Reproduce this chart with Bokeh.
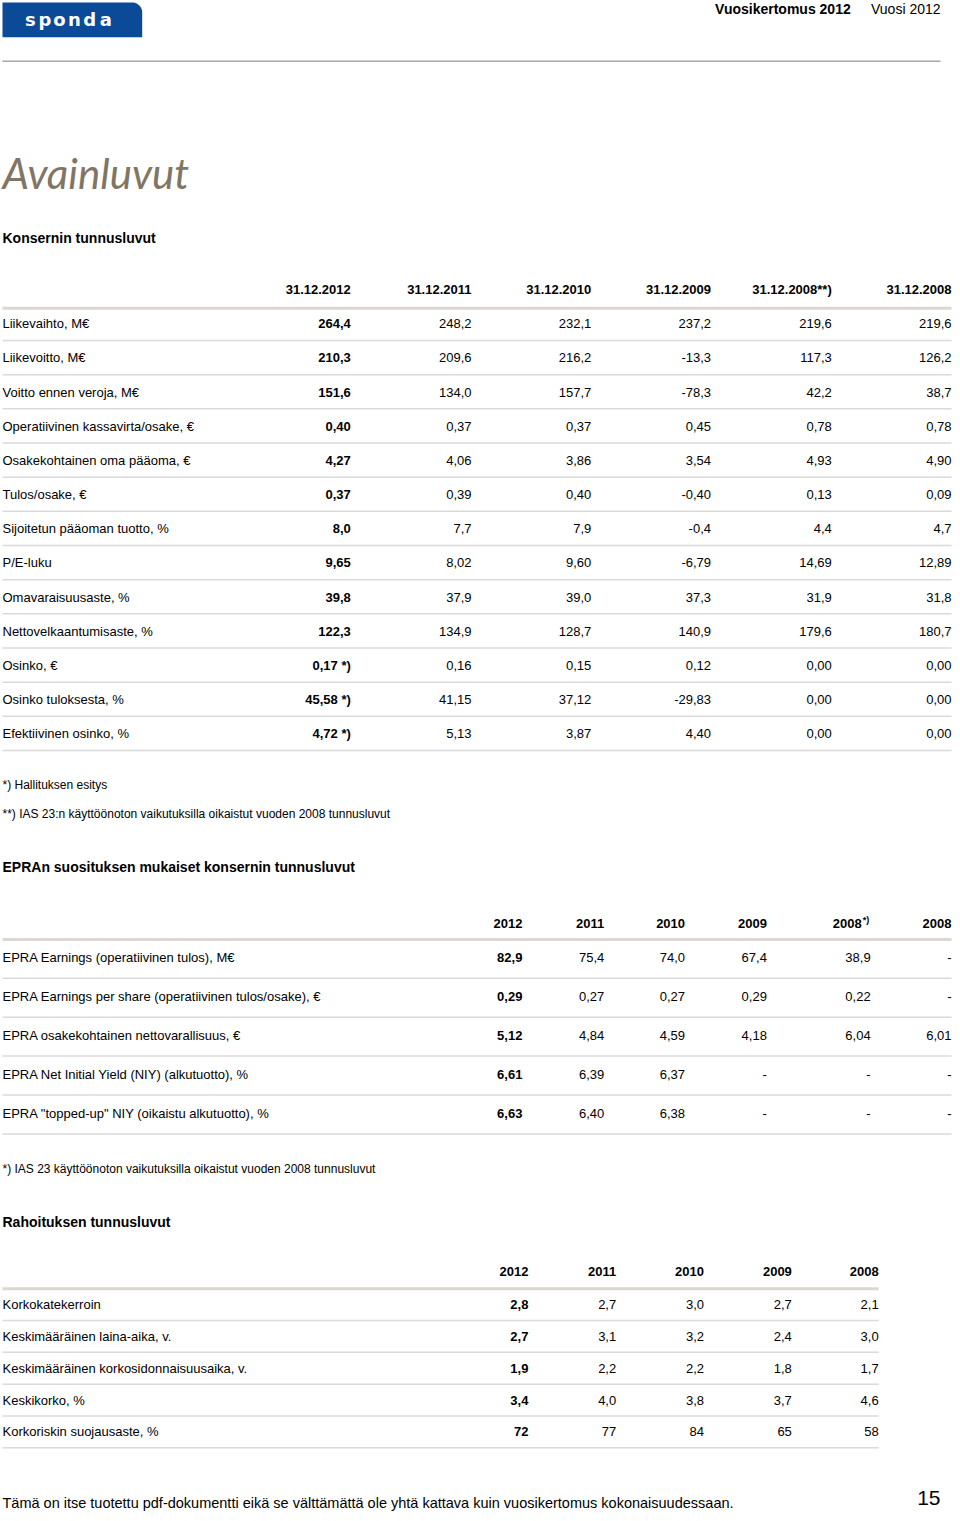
import math
from bokeh.plotting import figure
from bokeh.models import Range1d
from bokeh.core.properties import value
from bokeh.embed import file_html
from bokeh.resources import INLINE

# ---------------- data ----------------
header_bold = "Vuosikertomus 2012"
header_plain = "Vuosi 2012"
page_title = "Avainluvut"
footer_text = "Tämä on itse tuotettu pdf-dokumentti eikä se välttämättä ole yhtä kattava kuin vuosikertomus kokonaisuudessaan."
page_number = "15"

t1_title = "Konsernin tunnusluvut"
t1_cols = ["31.12.2012", "31.12.2011", "31.12.2010", "31.12.2009", "31.12.2008**)", "31.12.2008"]
t1_rows = ["Liikevaihto, M€", "Liikevoitto, M€", "Voitto ennen veroja, M€",
           "Operatiivinen kassavirta/osake, €", "Osakekohtainen oma pääoma, €",
           "Tulos/osake, €", "Sijoitetun pääoman tuotto, %", "P/E-luku",
           "Omavaraisuusaste, %", "Nettovelkaantumisaste, %", "Osinko, €",
           "Osinko tuloksesta, %", "Efektiivinen osinko, %"]
t1_2012 = ["264,4", "210,3", "151,6", "0,40", "4,27", "0,37", "8,0", "9,65", "39,8", "122,3", "0,17 *)", "45,58 *)", "4,72 *)"]
t1_2011 = ["248,2", "209,6", "134,0", "0,37", "4,06", "0,39", "7,7", "8,02", "37,9", "134,9", "0,16", "41,15", "5,13"]
t1_2010 = ["232,1", "216,2", "157,7", "0,37", "3,86", "0,40", "7,9", "9,60", "39,0", "128,7", "0,15", "37,12", "3,87"]
t1_2009 = ["237,2", "-13,3", "-78,3", "0,45", "3,54", "-0,40", "-0,4", "-6,79", "37,3", "140,9", "0,12", "-29,83", "4,40"]
t1_2008adj = ["219,6", "117,3", "42,2", "0,78", "4,93", "0,13", "4,4", "14,69", "31,9", "179,6", "0,00", "0,00", "0,00"]
t1_2008 = ["219,6", "126,2", "38,7", "0,78", "4,90", "0,09", "4,7", "12,89", "31,8", "180,7", "0,00", "0,00", "0,00"]
t1_notes = ["*) Hallituksen esitys",
            "**) IAS 23:n käyttöönoton vaikutuksilla oikaistut vuoden 2008 tunnusluvut"]

t2_title = "EPRAn suosituksen mukaiset konsernin tunnusluvut"
t2_cols = ["2012", "2011", "2010", "2009", "2008", "2008"]
t2_col_marks = ["", "", "", "", "*)", ""]
t2_rows = ["EPRA Earnings (operatiivinen tulos), M€",
           "EPRA Earnings per share (operatiivinen tulos/osake), €",
           "EPRA osakekohtainen nettovarallisuus, €",
           "EPRA Net Initial Yield (NIY) (alkutuotto), %",
           "EPRA \"topped-up\" NIY (oikaistu alkutuotto), %"]
t2_2012 = ["82,9", "0,29", "5,12", "6,61", "6,63"]
t2_2011 = ["75,4", "0,27", "4,84", "6,39", "6,40"]
t2_2010 = ["74,0", "0,27", "4,59", "6,37", "6,38"]
t2_2009 = ["67,4", "0,29", "4,18", "-", "-"]
t2_2008adj = ["38,9", "0,22", "6,04", "-", "-"]
t2_2008 = ["-", "-", "6,01", "-", "-"]
t2_note = "*)  IAS 23 käyttöönoton vaikutuksilla oikaistut vuoden 2008 tunnusluvut"

t3_title = "Rahoituksen tunnusluvut"
t3_cols = ["2012", "2011", "2010", "2009", "2008"]
t3_rows = ["Korkokatekerroin", "Keskimääräinen laina-aika, v.",
           "Keskimääräinen korkosidonnaisuusaika, v.", "Keskikorko, %",
           "Korkoriskin suojausaste, %"]
t3_2012 = ["2,8", "2,7", "1,9", "3,4", "72"]
t3_2011 = ["2,7", "3,1", "2,2", "4,0", "77"]
t3_2010 = ["3,0", "3,2", "2,2", "3,8", "84"]
t3_2009 = ["2,7", "2,4", "1,8", "3,7", "65"]
t3_2008 = ["2,1", "3,0", "1,7", "4,6", "58"]

# ---------------- styling ----------------
FONT = "Liberation Sans"
BLUE = "#0b4a97"
TITLE_COL = "#7f7664"
HEAD_RULE = "#dcd8cf"
ROW_RULE = "#dadada"
LEFT = 6

p = figure(width=952, height=1513, x_range=Range1d(4, 958), y_range=Range1d(1521, 0),
           output_backend="svg", toolbar_location=None, min_border=0,
           x_axis_type=None, y_axis_type=None)
p.grid.visible = False
p.outline_line_color = None
p.background_fill_color = "white"
p.border_fill_color = "white"


def txt(x, y, t, size="13px", style="normal", align="left", baseline="middle",
        color="black", font=FONT):
    if not isinstance(x, list):
        x, y, t = [x], [y], [t]
    p.text(x=x, y=y, text=t, text_align=align, text_baseline=baseline,
           text_font=value(font), text_font_size=size, text_font_style=style,
           text_color=color)


# ---------------- page header ----------------
r = 10
lx0, lx1, ly0, ly1 = 6, 146, 2, 37
px = [lx0, lx0]
py = [ly1, ly0]
for k in range(0, 11):
    a = math.radians(9 * k)
    px.append(lx1 - r + r * math.sin(a))
    py.append(ly0 + r - r * math.cos(a))
px.append(lx1)
py.append(ly1)
p.patch(px, py, fill_color=BLUE, line_color=None)
logo_letters = list("sponda")
logo_x = [34, 48.5, 63, 78, 93.5, 109.5]
txt(logo_x, [19] * 6, logo_letters, size="18px", style="bold", align="center",
    color="white", font="DejaVu Sans")

txt(856, 9, header_bold, size="14px", style="bold", align="right")
txt(946, 9, header_plain, size="14px", align="right")
p.segment(x0=[6], x1=[946], y0=[61], y1=[61], line_color="#a8a8a8", line_width=1.5)

txt(6, 173, page_title, size="42px", style="italic", color=TITLE_COL, font="Lato")


# ---------------- tables ----------------
def table(title, title_y, cols, rows, values, col_x, head_y, head_rule_y,
          row_y0, row_step, rule_off, x_right, head_x=None, marks=None):
    txt(LEFT, title_y, title, size="14px", style="bold")
    hx = head_x if head_x is not None else col_x
    txt(hx, [head_y] * len(cols), cols, style="bold", align="right")
    if marks:
        for j, m in enumerate(marks):
            if m:
                txt(hx[j] + 1, head_y - 4, m, size="9px", style="bold")
    p.segment(x0=[LEFT], x1=[x_right], y0=[head_rule_y], y1=[head_rule_y],
              line_color=HEAD_RULE, line_width=3)
    ys = [row_y0 + i * row_step for i in range(len(rows))]
    txt([LEFT] * len(rows), ys, rows)
    for j, col in enumerate(values):
        txt([col_x[j]] * len(col), ys, col, style="bold" if j == 0 else "normal",
            align="right")
    ry = [y + rule_off for y in ys]
    p.segment(x0=[LEFT] * len(ry), x1=[x_right] * len(ry), y0=ry, y1=ry,
              line_color=ROW_RULE, line_width=1.5)


table(t1_title, 239, t1_cols, t1_rows,
      [t1_2012, t1_2011, t1_2010, t1_2009, t1_2008adj, t1_2008],
      [355, 476, 596, 716, 837, 957], 291, 309.5, 325, 34.35, 16.8, 957)
txt([LEFT, LEFT], [789, 818], t1_notes, size="12px")

table(t2_title, 871, t2_cols, t2_rows,
      [t2_2012, t2_2011, t2_2010, t2_2009, t2_2008adj, t2_2008],
      [527, 609, 690, 772, 876, 957], 928, 944, 962, 39.1, 21, 957,
      head_x=[527, 609, 690, 772, 867, 957], marks=t2_col_marks)
txt(LEFT, 1175, t2_note, size="12px")

table(t3_title, 1228, t3_cols, t3_rows,
      [t3_2012, t3_2011, t3_2010, t3_2009, t3_2008],
      [533, 621, 709, 797, 884], 1278, 1295, 1311, 32, 16, 884)

# ---------------- footer ----------------
txt(LEFT, 1510, footer_text, size="14.5px")
txt(946, 1505, page_number, size="21px", align="right")

open("out.html", "w").write(file_html(p, INLINE))
